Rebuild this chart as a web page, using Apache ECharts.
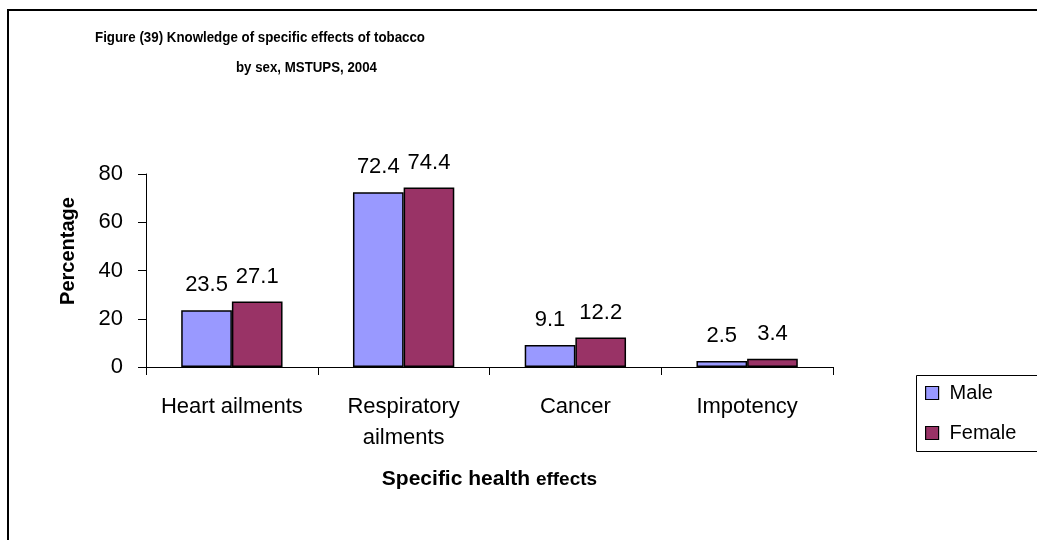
<!DOCTYPE html>
<html>
<head>
<meta charset="utf-8">
<script src="https://cdn.jsdelivr.net/npm/echarts@6/dist/echarts.min.js"></script>
<style>
  html, body { margin: 0; padding: 0; background: #fff; }
  #chart { width: 1037px; height: 540px; }
</style>
</head>
<body>
<div id="chart"></div>
<script>
// Knowledge of specific health effects of tobacco, by sex (percent)
const categories = ['Heart ailments', 'Respiratory\nailments', 'Cancer', 'Impotency'];
const maleValues = [23.5, 72.4, 9.1, 2.5];
const femaleValues = [27.1, 74.4, 12.2, 3.4];
const seriesNames = ['Male', 'Female'];
const titleLines = ['Figure (39) Knowledge of specific effects of tobacco', 'by sex, MSTUPS, 2004'];

const FONT = '"Liberation Sans", Arial, sans-serif';

// Fit a bold (narrow-looking) title line to a given width
const measureCtx = document.createElement('canvas').getContext('2d');
function fitScale(text, font, targetWidth) {
  measureCtx.font = font;
  return targetWidth / measureCtx.measureText(text).width;
}
const titleFont = 'bold 15.5px "Liberation Sans", Arial, sans-serif';

const chart = echarts.init(document.getElementById('chart'), null, { renderer: 'canvas' });

const barLabel = {
  show: true,
  position: 'top',
  distance: 14,
  fontSize: 22,
  fontFamily: FONT,
  color: '#000'
};

chart.setOption({
  animation: false,
  backgroundColor: '#fff',
  grid: { left: 146, right: 204, top: 174, bottom: 173, containLabel: false },
  legend: {
    orient: 'vertical',
    left: 925,
    top: 383,
    padding: 0,
    itemWidth: 13,
    itemHeight: 13,
    itemGap: 20,
    icon: 'rect',
    itemStyle: { borderColor: '#000', borderWidth: 1.2 },
    textStyle: { fontSize: 20, fontFamily: FONT, color: '#000', lineHeight: 20, padding: [0, 0, 0, 6] },
    data: seriesNames
  },
  xAxis: {
    type: 'category',
    data: categories,
    name: '{a|Specific health }{b|effects}',
    nameLocation: 'middle',
    nameGap: 102,
    nameTextStyle: {
      rich: {
        a: { fontSize: 21, fontWeight: 'bold', fontFamily: FONT, color: '#000' },
        b: { fontSize: 19, fontWeight: 'bold', fontFamily: FONT, color: '#000' }
      }
    },
    axisLine: { lineStyle: { color: '#000', width: 1 } },
    axisTick: { show: true, alignWithLabel: false, length: 8, lineStyle: { color: '#000' } },
    axisLabel: { fontSize: 22, fontFamily: FONT, color: '#000', margin: 24, lineHeight: 31, interval: 0 },
    splitLine: { show: false }
  },
  yAxis: {
    type: 'value',
    min: 0,
    max: 80,
    interval: 20,
    axisLine: { show: true, lineStyle: { color: '#000', width: 1 } },
    axisTick: { show: true, length: 8, lineStyle: { color: '#000' } },
    axisLabel: { fontSize: 22, fontFamily: FONT, color: '#000', margin: 23 },
    splitLine: { show: false }
  },
  series: [
    {
      name: seriesNames[0],
      type: 'bar',
      data: maleValues,
      barGap: '0%',
      barCategoryGap: '41%',
      itemStyle: { color: '#9999FF', borderColor: '#000', borderWidth: 1.5 },
      label: barLabel
    },
    {
      name: seriesNames[1],
      type: 'bar',
      data: femaleValues,
      barGap: '0%',
      barCategoryGap: '41%',
      itemStyle: { color: '#993366', borderColor: '#000', borderWidth: 1.5 },
      label: barLabel
    }
  ],
  graphic: [
    // outer frame
    {
      type: 'rect', z: -10, silent: true,
      shape: { x: 8, y: 10, width: 1100, height: 600 },
      style: { fill: 'none', stroke: '#000', lineWidth: 2 }
    },
    // legend box
    {
      type: 'rect', z: -5, silent: true,
      shape: { x: 916.5, y: 375.5, width: 200, height: 76 },
      style: { fill: '#fff', stroke: '#000', lineWidth: 1 }
    },
    // two-line title
    {
      type: 'text', silent: true,
      x: 95, y: 30,
      scaleX: fitScale(titleLines[0], titleFont, 330),
      style: { text: titleLines[0], font: titleFont, fill: '#000', textVerticalAlign: 'top' }
    },
    {
      type: 'text', silent: true,
      x: 236, y: 60,
      scaleX: fitScale(titleLines[1], titleFont, 141),
      style: { text: titleLines[1], font: titleFont, fill: '#000', textVerticalAlign: 'top' }
    },
    // y axis title
    {
      type: 'text', silent: true,
      x: 68, y: 251,
      rotation: Math.PI / 2,
      style: {
        text: 'Percentage',
        font: 'bold 20px "Liberation Sans", Arial, sans-serif',
        fill: '#000',
        textAlign: 'center',
        textVerticalAlign: 'middle'
      }
    }
  ]
});
</script>
</body>
</html>
